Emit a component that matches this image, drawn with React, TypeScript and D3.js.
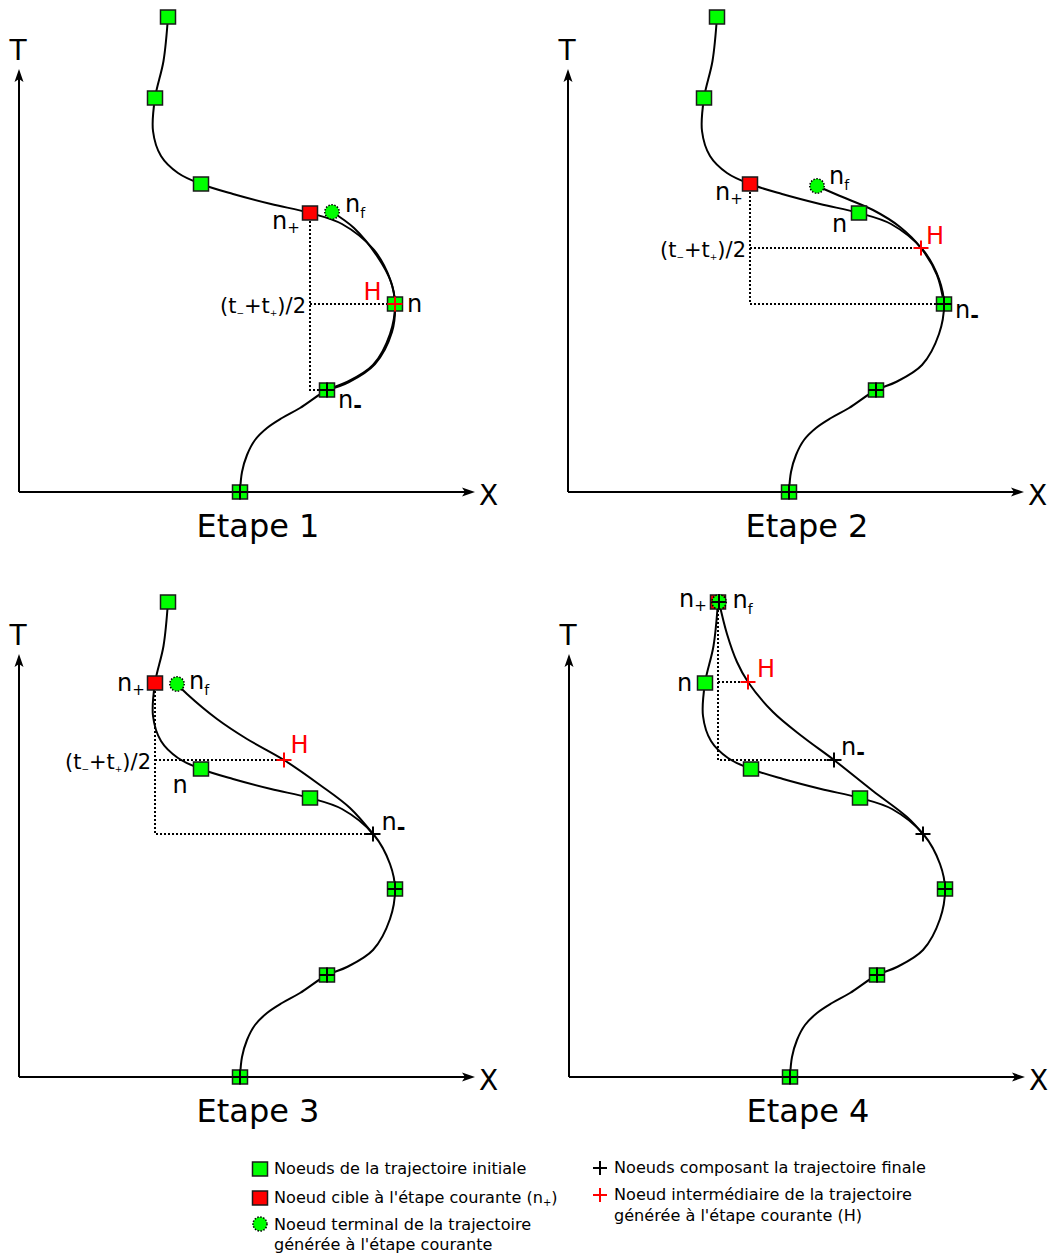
import React from 'react';
import * as d3 from 'd3';

type P = [number, number];

// ---- Data (X, T) relative to each panel's axis origin ----
const INITIAL_NODES: P[] = [[149, 475], [136, 394], [182, 308], [291, 279], [376, 188], [308, 102], [221, 0]];
const INITIAL_PATH: P[] = [
  [149, 475], [144.5, 431], [136, 394], [134, 361], [142, 336], [159, 319], [182, 308], [214, 298], [252, 288], [291, 279],
  [323, 268], [355, 242], [371, 213], [376, 188], [371, 158], [354, 127], [328, 110], [308, 102], [281, 84], [263, 74],
  [248, 64], [236, 52], [228, 37], [223, 20], [221, 0],
];
const STEP_LABELS = ['Etape 1', 'Etape 2', 'Etape 3', 'Etape 4'];
const TARGET_INDEX = [3, 2, 1, 0];
const N_INDEX = [4, 3, 2, 1];
const TERMINAL_NODES: P[] = [[313, 280], [249, 306], [158, 393], [150, 475]];
const H_NODES: P[] = [[376, 188], [353, 244], [265, 317], [179, 395]];
const N_MINUS_NODES: P[] = [[308, 102], [376, 188], [354, 243], [265, 317]];
const GENERATED_1: P[] = [[313, 280], [335, 264], [358, 236], [372, 210], [376, 188], [373, 160], [356, 128], [330, 110], [308, 102]];
const GENERATED_2: P[] = [[249, 306], [272, 296], [305, 282], [332, 265], [353, 244], [369, 217], [376, 188]];
const GENERATED_3: P[] = [[158, 393], [168, 383], [198, 358], [228, 338], [265, 317], [301, 292], [331, 269], [354, 243]];
const GENERATED_4: P[] = [[150, 475], [158, 443], [168, 415], [179, 395], [204, 365], [234, 340], [265, 317], [304, 286], [338, 260], [354, 243]];
const GENERATED = [GENERATED_1, GENERATED_2, GENERATED_3, GENERATED_4];
const FINAL_1: P[] = [[376, 188], [308, 102], [221, 0]];
const FINAL_2: P[] = [[376, 188], [308, 102], [221, 0]];
const FINAL_3: P[] = [[354, 243], [376, 188], [308, 102], [221, 0]];
const FINAL_4: P[] = [[150, 475], [265, 317], [354, 243], [376, 188], [308, 102], [221, 0]];
const FINAL = [FINAL_1, FINAL_2, FINAL_3, FINAL_4];
const LEGEND_LEFT = [
  ['Noeuds de la trajectoire initiale'],
  ["Noeud cible à l'étape courante (n", '+', ')'],
  ['Noeud terminal de la trajectoire', 'générée à l\'étape courante'],
];
const LEGEND_RIGHT = [
  ['Noeuds composant la trajectoire finale'],
  ['Noeud intermédiaire de la trajectoire', "générée à l'étape courante (H)"],
];

// ---- Layout ----
const ORIGINS: P[] = [[19, 492], [568, 492], [19, 1077], [569, 1077]];
const LABEL_OFFSETS = [
  { nPlus: [-38, 16], nf: [13, 0], h: [-31.5, -4], n: [12, 7.5], nMinus: [11, 18], formula: true },
  { nPlus: [-35, 16], nf: [12, -2], h: [5, -4], n: [-27, 19], nMinus: [11, 14], formula: true },
  { nPlus: [-38, 8], nf: [12, 5], h: [6.5, -7], n: [-28.5, 23.5], nMinus: [8.5, -4], formula: true },
  { nPlus: [-39, 5], nf: [13.5, 6], h: [9, -5], n: [-28, 8], nMinus: [7, -5], formula: false },
];
const FONT = 'DejaVu Sans, Verdana, sans-serif';
const GREEN = '#00ff00';
const RED = '#ff0000';
const SQ_W = 15;
const SQ_H = 14;
const CROSS = 15;

const xS = d3.scaleLinear().domain([0, 460]).range([0, 460]);
const tS = d3.scaleLinear().domain([0, 480]).range([0, -480]);
const lineGen = d3.line<P>().x(d => xS(d[0])).y(d => tS(d[1])).curve(d3.curveCatmullRom.alpha(0.5));

function Square({ p, fill }: { p: P; fill: string }) {
  return <rect x={xS(p[0]) - SQ_W / 2} y={tS(p[1]) - SQ_H / 2} width={SQ_W} height={SQ_H} fill={fill} stroke="#1a1a1a" strokeWidth={1.5} />;
}
function Cross({ p, color }: { p: P; color: string }) {
  const x = xS(p[0]), y = tS(p[1]), h = CROSS / 2;
  return <path d={`M${x - h},${y}H${x + h}M${x},${y - h}V${y + h}`} stroke={color} strokeWidth={2} fill="none" />;
}
function Terminal({ p }: { p: P }) {
  return <circle cx={xS(p[0])} cy={tS(p[1])} r={7.2} fill={GREEN} stroke="#000" strokeWidth={1.5} strokeDasharray="1.5,1.5" />;
}
function Arrow({ x, y, angle }: { x: number; y: number; angle: number }) {
  return <path d="M0,0 L-4.5,13 L0,10 L4.5,13 Z" transform={`translate(${x},${y}) rotate(${angle})`} fill="#000" />;
}
function Sub({ base, sub, subSize, dy, x, y, color = '#000', size = 24, bold = false }: any) {
  return (
    <text x={x} y={y} fontFamily={FONT} fontSize={size} fill={color}>
      {base}
      <tspan fontSize={subSize} dy={dy} fontWeight={bold ? 'bold' : 'normal'}>{sub}</tspan>
    </text>
  );
}

function Panel({ i }: { i: number }) {
  const [ox, oy] = ORIGINS[i];
  const target = INITIAL_NODES[TARGET_INDEX[i]];
  const nf = TERMINAL_NODES[i];
  const h = H_NODES[i];
  const nm = N_MINUS_NODES[i];
  const nNode = INITIAL_NODES[N_INDEX[i]];
  const L = LABEL_OFFSETS[i];
  const px = (p: P) => xS(p[0]);
  const py = (p: P) => tS(p[1]);
  const dotted = `M${px(target)},${py(target)}V${py(nm)}H${px(nm)}M${px(target)},${py(h)}H${px(h)}`;
  return (
    <g transform={`translate(${ox},${oy})`}>
      {/* axes */}
      <line x1={0} y1={0} x2={0} y2={-413} stroke="#000" strokeWidth={2} />
      <Arrow x={0} y={-423} angle={0} />
      <line x1={0} y1={0} x2={446} y2={0} stroke="#000" strokeWidth={2} />
      <Arrow x={456} y={0} angle={90} />
      <text x={-1} y={-432} textAnchor="middle" fontFamily={FONT} fontSize={28}>T</text>
      <text x={460} y={12.5} fontFamily={FONT} fontSize={28}>X</text>
      <text x={239} y={45} textAnchor="middle" fontFamily={FONT} fontSize={32}>{STEP_LABELS[i]}</text>
      {/* curves */}
      <path d={lineGen(INITIAL_PATH) || ''} fill="none" stroke="#000" strokeWidth={2} />
      <path d={lineGen(GENERATED[i]) || ''} fill="none" stroke="#000" strokeWidth={2} />
      {/* dotted construction lines */}
      <path d={dotted} fill="none" stroke="#000" strokeWidth={2} strokeDasharray="2,2" />
      {/* nodes */}
      {INITIAL_NODES.map((p, k) => (
        <Square key={k} p={p} fill={k === TARGET_INDEX[i] ? RED : GREEN} />
      ))}
      <Terminal p={nf} />
      {FINAL[i].map((p, k) => <Cross key={k} p={p} color="#000" />)}
      <Cross p={h} color={RED} />
      {/* labels */}
      <Sub x={px(target) + L.nPlus[0]} y={py(target) + L.nPlus[1]} base="n" sub="+" subSize={15} dy={4} />
      <Sub x={px(nf) + L.nf[0]} y={py(nf) + L.nf[1]} base="n" sub="f" subSize={14} dy={6} />
      <text x={px(h) + L.h[0]} y={py(h) + L.h[1]} fontFamily={FONT} fontSize={24} fill={RED}>H</text>
      <text x={px(nNode) + L.n[0]} y={py(nNode) + L.n[1]} fontFamily={FONT} fontSize={24}>n</text>
      <Sub x={px(nm) + L.nMinus[0]} y={py(nm) + L.nMinus[1]} base="n" sub="-" subSize={21} dy={5} bold />
      {L.formula && (
        <text x={px(target) - 4} y={py(h) + 9} textAnchor="end" fontFamily={FONT} fontSize={21}>
          (t<tspan fontSize={9} dy={3}>−</tspan>
          <tspan dy={-3}>+t</tspan>
          <tspan fontSize={9} dy={3}>+</tspan>
          <tspan dy={-3}>)/2</tspan>
        </text>
      )}
    </g>
  );
}

function Legend() {
  const fs = 16.1;
  return (
    <g fontFamily={FONT} fontSize={fs}>
      <rect x={260 - 7.5} y={1169 - 7} width={15} height={14} fill={GREEN} stroke="#1a1a1a" strokeWidth={1.5} />
      <text x={274} y={1174}>{LEGEND_LEFT[0][0]}</text>
      <rect x={260 - 7.5} y={1198 - 7} width={15} height={14} fill={RED} stroke="#1a1a1a" strokeWidth={1.5} />
      <text x={274} y={1203}>
        {LEGEND_LEFT[1][0]}
        <tspan fontSize={10} dy={3}>{LEGEND_LEFT[1][1]}</tspan>
        <tspan dy={-3}>{LEGEND_LEFT[1][2]}</tspan>
      </text>
      <circle cx={260} cy={1224} r={7} fill={GREEN} stroke="#000" strokeWidth={1.5} strokeDasharray="1.5,1.5" />
      <text x={274} y={1230}>{LEGEND_LEFT[2][0]}</text>
      <text x={274} y={1250}>{LEGEND_LEFT[2][1]}</text>
      <path d="M593,1168H607M600,1161V1175" stroke="#000" strokeWidth={2} />
      <text x={614} y={1173}>{LEGEND_RIGHT[0][0]}</text>
      <path d="M593,1195H607M600,1188V1202" stroke={RED} strokeWidth={2} />
      <text x={614} y={1200}>{LEGEND_RIGHT[1][0]}</text>
      <text x={614} y={1221}>{LEGEND_RIGHT[1][1]}</text>
    </g>
  );
}

export default function App() {
  return (
    <svg width={1053} height={1256} style={{ position: 'absolute', left: 0, top: 0, background: '#fff' }}>
      <rect width={1053} height={1256} fill="#fff" />
      {[0, 1, 2, 3].map(i => <Panel key={i} i={i} />)}
      <Legend />
    </svg>
  );
}
